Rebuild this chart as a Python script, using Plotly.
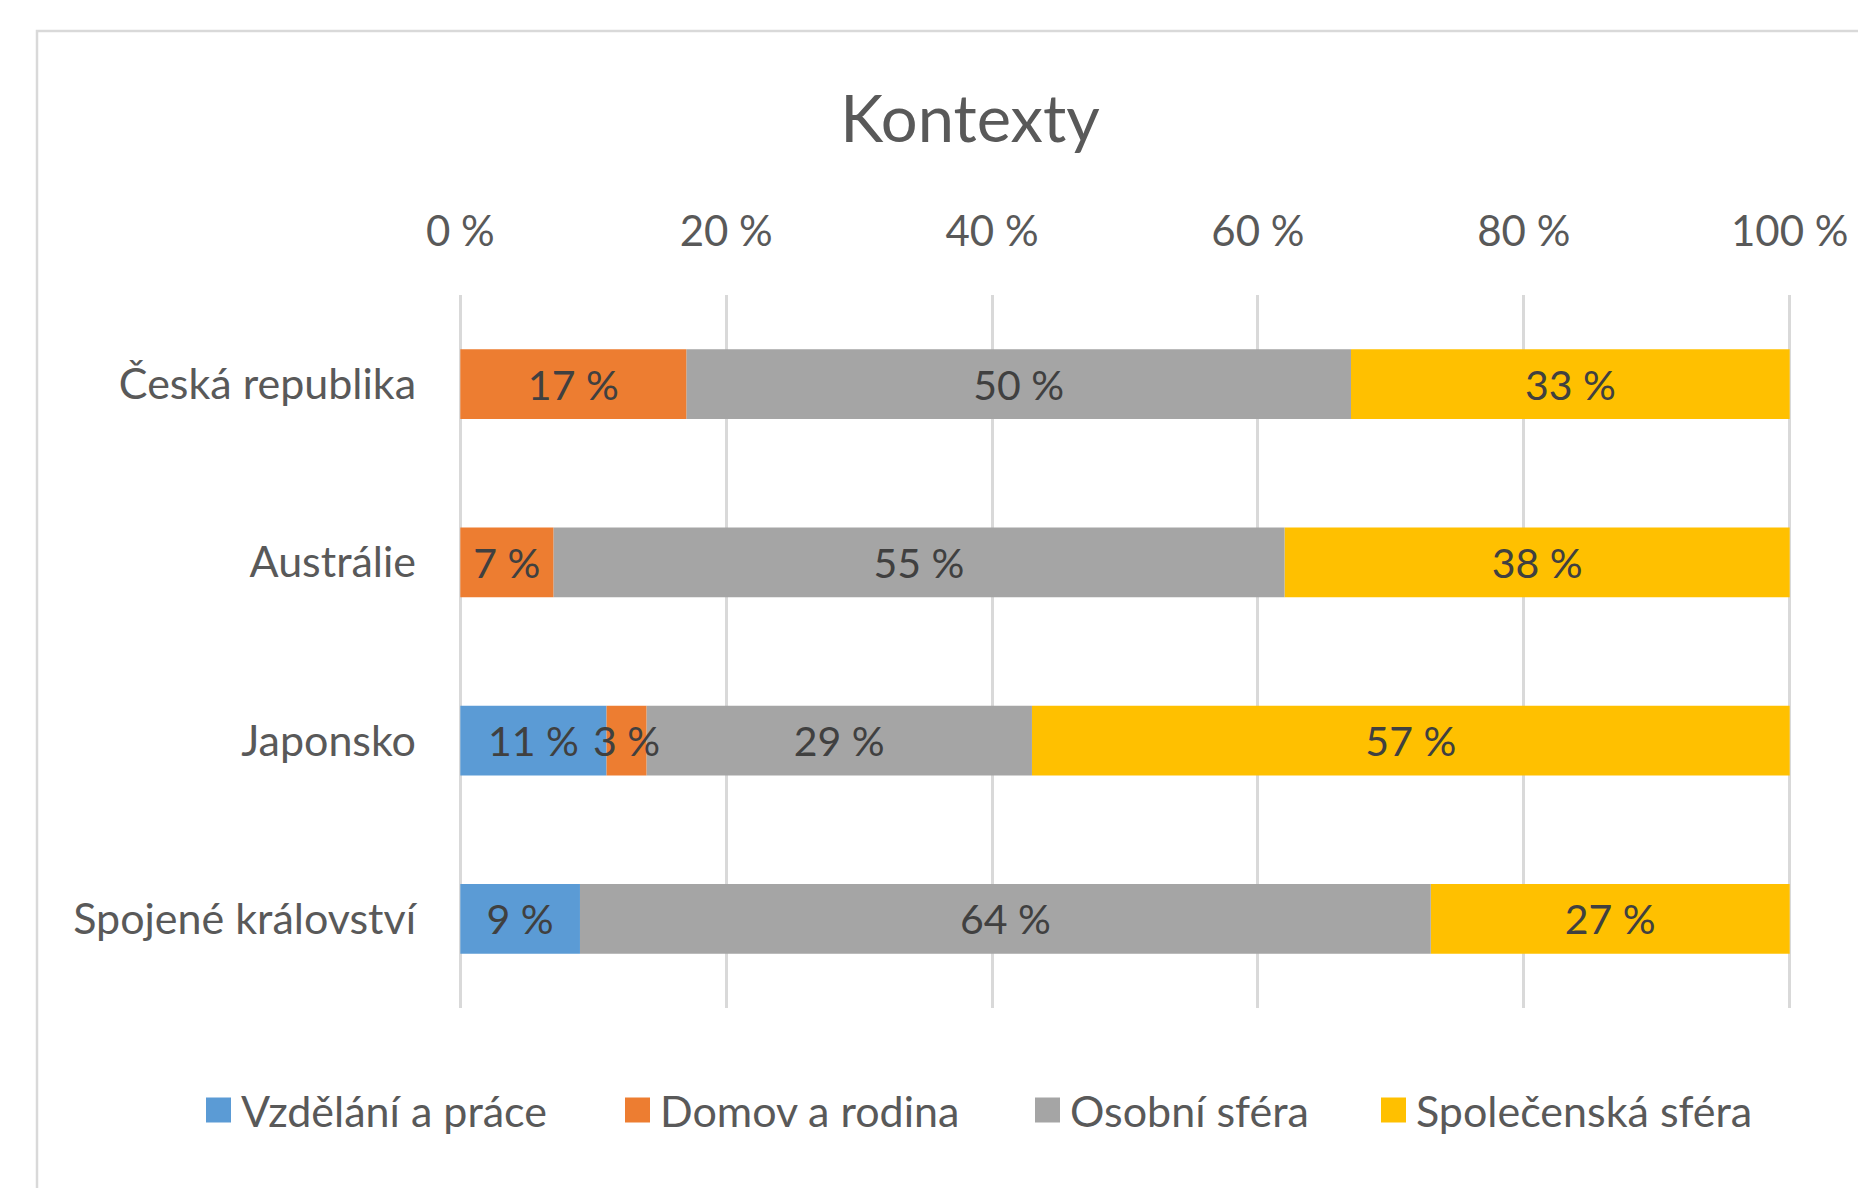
import plotly.graph_objects as go

# data (percent of contexts per country)
countries = ["Česká republika", "Austrálie", "Japonsko", "Spojené království"]
series_names = ["Vzdělání a práce", "Domov a rodina", "Osobní sféra", "Společenská sféra"]
vzdelani = [0, 0, 11, 9]
domov = [17, 7, 3, 0]
osobni = [50, 55, 29, 64]
spolecenska = [33, 38, 57, 27]
colors = ["#5B9BD5", "#ED7D31", "#A5A5A5", "#FFC000"]
tick_vals = [0, 20, 40, 60, 80, 100]
tick_text = ["0 %", "20 %", "40 %", "60 %", "80 %", "100 %"]

FONT = "Lato"
TXT = "#595959"
W, H = 1866, 1188
OFF = 8                      # page body margin shifts everything by 8px
L, R, T, B = 459 - OFF, 75 + OFF, 295 - OFF, 180 + OFF
PW, PH = W - L - R, H - T - B


def px_x(x):
    # page pixel -> paper x
    return (x - OFF - L) / PW


def px_y(y):
    # page pixel -> paper y
    return (H - B - (y - OFF)) / PH


series = [vzdelani, domov, osobni, spolecenska]

# start of each segment, so traces can be drawn in any order
bases = []
run = [0] * len(countries)
for vals in series:
    bases.append(list(run))
    run = [r + v for r, v in zip(run, vals)]

fig = go.Figure()
# orange last so the overflowing "3 %" label sits on top of its neighbours
for i in [3, 2, 0, 1]:
    vals = series[i]
    fig.add_trace(go.Bar(
        y=countries, x=vals, base=bases[i], orientation="h",
        name=series_names[i], marker=dict(color=colors[i], line=dict(width=0)),
        text=[f"{v} %" if v else "" for v in vals],
        textposition="inside", insidetextanchor="middle", textangle=0,
        constraintext="none", showlegend=False,
        textfont=dict(family=FONT, size=41, color="#404040"),
        hoverinfo="name+x+y",
    ))

# legend drawn like the Excel one: 25px squares, wide gaps
legend_sq_x = [206, 625, 1035, 1381]
legend_y = 1110
shapes = [dict(type="rect", xref="paper", yref="paper",
               x0=px_x(37), x1=px_x(1930), y0=px_y(1260), y1=px_y(31),
               line=dict(color="#D9D9D9", width=2.5), layer="below")]
annotations = []
for name, col, sx in zip(series_names, colors, legend_sq_x):
    shapes.append(dict(type="rect", xref="paper", yref="paper",
                       x0=px_x(sx), x1=px_x(sx + 25),
                       y0=px_y(legend_y + 12.5), y1=px_y(legend_y - 12.5),
                       fillcolor=col, line=dict(width=0)))
    annotations.append(dict(text=name, xref="paper", yref="paper",
                            x=px_x(sx + 33), y=px_y(legend_y),
                            xanchor="left", yanchor="middle", showarrow=False,
                            font=dict(family=FONT, size=43, color=TXT)))

fig.update_layout(
    width=W, height=H,
    margin=dict(l=L, r=R, t=T, b=B),
    paper_bgcolor="white", plot_bgcolor="white",
    barmode="overlay", bargap=0.61, showlegend=False,
    font=dict(family=FONT, color=TXT, size=42),
    title=dict(text="Kontexty", x=(970 - OFF) / W, xanchor="center",
               y=1 - (119 - OFF) / H, yanchor="middle",
               font=dict(family=FONT, size=65, color=TXT)),
    # range padded a hair so the 0 % and 100 % gridlines are still drawn
    xaxis=dict(side="top", range=[-0.1, 100.1],
               tickmode="array", tickvals=tick_vals, ticktext=tick_text,
               showgrid=True, gridcolor="#D9D9D9", gridwidth=2.5,
               zeroline=False, showline=False, ticks="",
               ticklabelstandoff=40, fixedrange=True,
               tickfont=dict(family=FONT, size=42, color=TXT)),
    yaxis=dict(autorange="reversed", showgrid=False, zeroline=False,
               showline=False, ticks="", ticklabelstandoff=42,
               tickfont=dict(family=FONT, size=43, color=TXT)),
    shapes=shapes,
    annotations=annotations,
)

fig.write_html("out.html")
